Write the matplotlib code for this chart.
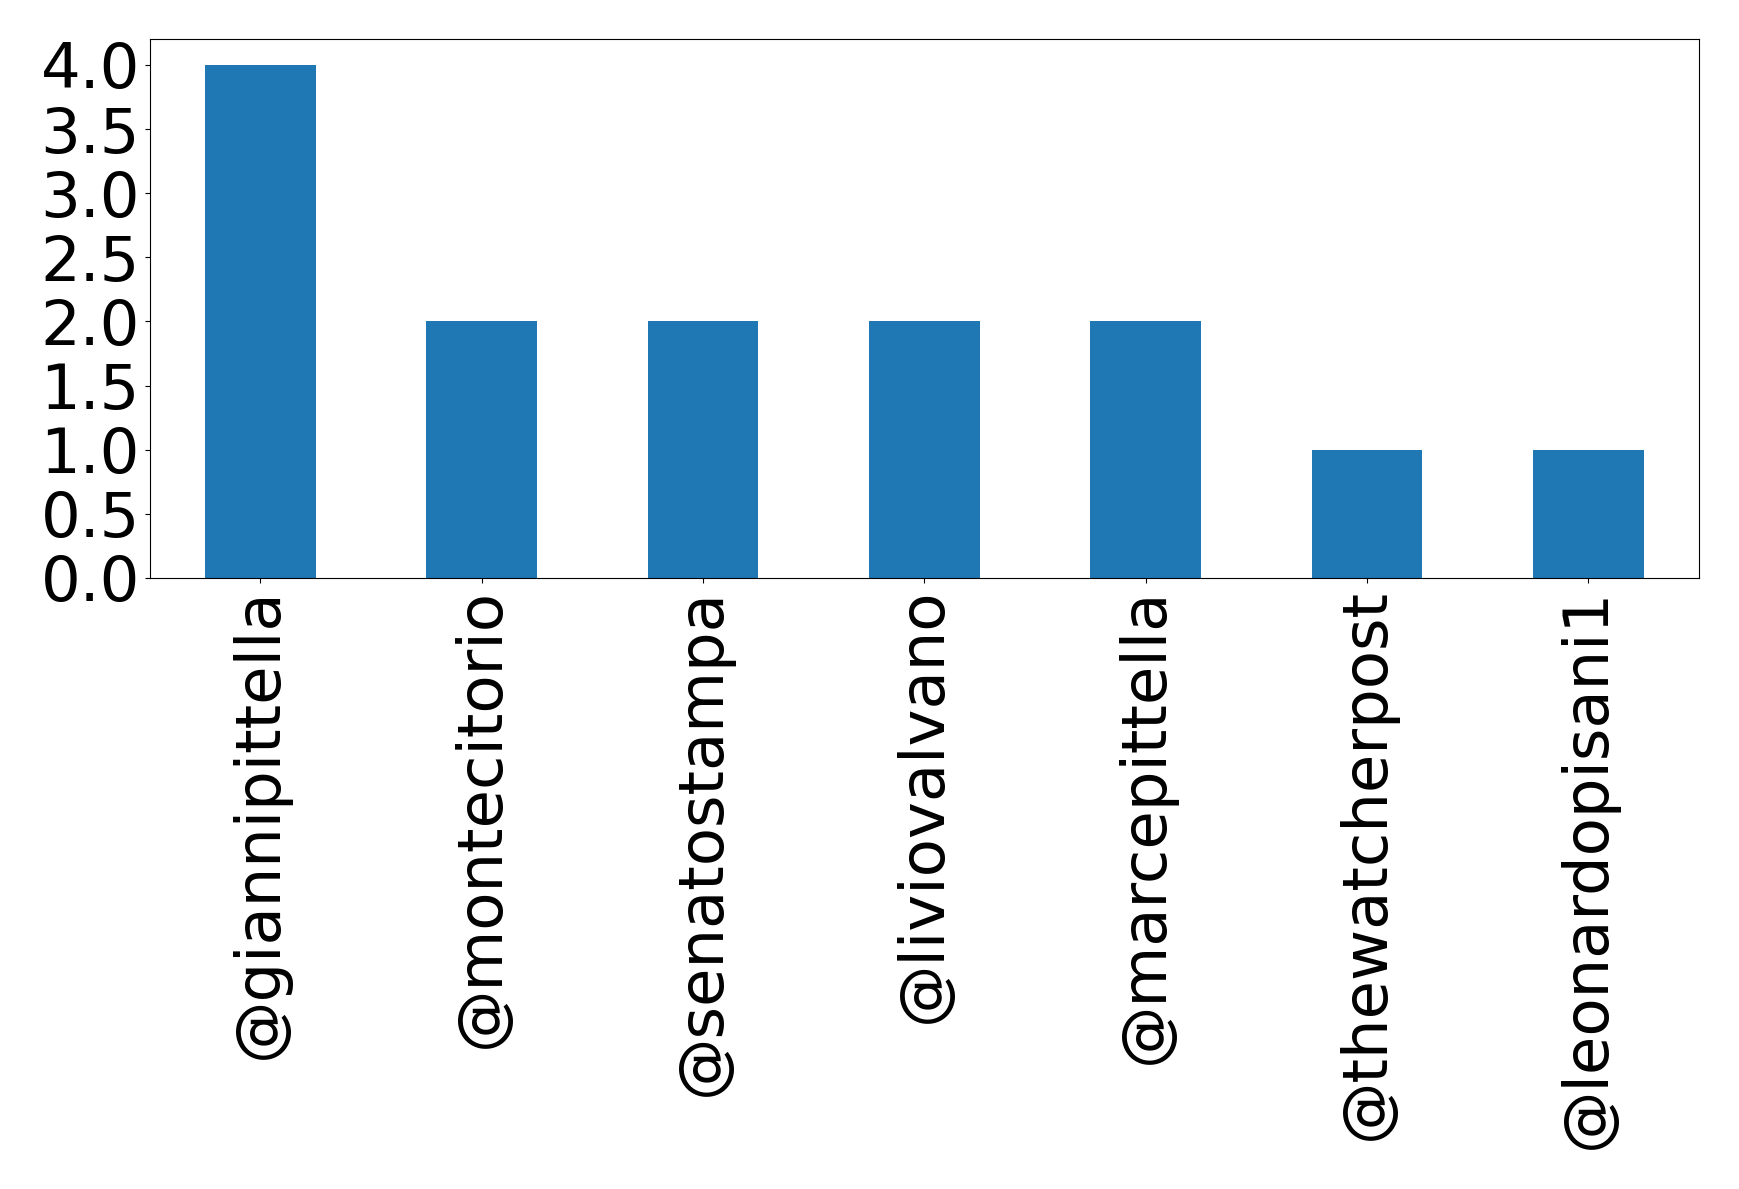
import matplotlib.pyplot as plt

users = ['@giannipittella', '@montecitorio', '@senatostampa', '@liviovalvano',
         '@marcepittella', '@thewatcherpost', '@leonardopisani1']
counts = [4, 2, 2, 2, 2, 1, 1]

W, H = 1739, 1189
fig = plt.figure(figsize=(W / 100, H / 100), dpi=100)
left, right, top, bottom = 149.7, 1699, 39.3, 578
ax = fig.add_axes([left / W, 1 - bottom / H, (right - left) / W, (bottom - top) / H])

x = range(len(users))
ax.bar(x, counts, width=0.5, color='#1f77b4')
ax.set_xlim(-0.5, len(users) - 0.5)
ax.set_ylim(0, 4.2)
ax.set_yticks([0, 0.5, 1, 1.5, 2, 2.5, 3, 3.5, 4])
ax.set_yticklabels(['0.0', '0.5', '1.0', '1.5', '2.0', '2.5', '3.0', '3.5', '4.0'])
ax.set_xticks(list(x))
ax.set_xticklabels(users, rotation=90)
ax.tick_params(labelsize=45)

fig.savefig('out.png', dpi=100)
